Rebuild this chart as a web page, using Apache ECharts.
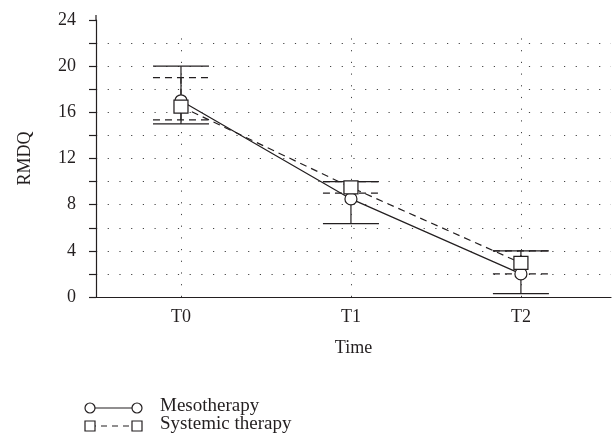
<!DOCTYPE html>
<html>
<head>
<meta charset="utf-8">
<script src="https://cdn.jsdelivr.net/npm/echarts@6/dist/echarts.min.js"></script>
<style>
html,body{margin:0;padding:0;background:#fff;}
#chart{width:614px;height:445px;}
</style>
</head>
<body>
<div id="chart"></div>
<script>
// ---- data ----
var categories = ['T0', 'T1', 'T2'];
var mesoMean = [17.0, 8.5, 2.0];
var mesoLow  = [15.0, 6.35, 0.3];
var mesoHigh = [20.0, 10.0, 4.0];
var sysMean  = [16.5, 9.5, 2.95];
var sysLow   = [15.35, 9.0, 2.0];
var sysHigh  = [19.0, 10.0, 4.0];
var seriesNames = ['Mesotherapy', 'Systemic therapy'];
var yTicks = [0, 4, 8, 12, 16, 20, 24];

var FONT = 'Liberation Serif';
var INK = '#231f20';

function pts(arr) { return arr.map(function (v, i) { return [i, v]; }); }
function bars(lo, hi) { return lo.map(function (v, i) { return [i, v, hi[i]]; }); }

function errRender(dashed) {
  return function (params, api) {
    var x = api.value(0);
    var lo = api.coord([x, api.value(1)]);
    var hi = api.coord([x, api.value(2)]);
    var hw = 28;
    var style = { stroke: INK, lineWidth: 1.2, lineDash: dashed ? [7, 5] : null };
    return {
      type: 'group',
      children: [
        { type: 'line', shape: { x1: lo[0], y1: lo[1], x2: hi[0], y2: hi[1] }, style: style },
        { type: 'line', shape: { x1: lo[0] - hw, y1: lo[1], x2: lo[0] + hw, y2: lo[1] }, style: style },
        { type: 'line', shape: { x1: hi[0] - hw, y1: hi[1], x2: hi[0] + hw, y2: hi[1] }, style: style }
      ]
    };
  };
}

var chart = echarts.init(document.getElementById('chart'), null, { renderer: 'canvas' });

var dotted = { color: '#444', width: 1, type: [1.2, 10.5] };

chart.setOption({
  animation: false,
  backgroundColor: '#fff',
  grid: { left: 96, right: 2, top: 20, bottom: 148 },
  xAxis: {
    type: 'value',
    min: -0.5,
    max: 2.53,
    interval: 0.5,
    name: 'Time',
    nameLocation: 'middle',
    nameGap: 42,
    nameTextStyle: { fontFamily: FONT, fontSize: 18, color: INK },
    axisLine: { onZero: false, lineStyle: { color: INK, width: 1.2 } },
    axisTick: { show: false },
    splitLine: { show: false },
    axisLabel: {
      margin: 11,
      fontFamily: FONT, fontSize: 18, color: INK,
      formatter: function (v) {
        var r = Math.round(v);
        return (Math.abs(v - r) < 1e-6 && categories[r] !== undefined) ? categories[r] : '';
      }
    }
  },
  yAxis: {
    type: 'value',
    min: 0,
    max: 24,
    interval: 2,
    name: 'RMDQ',
    nameLocation: 'middle',
    nameGap: 62,
    nameTextStyle: { fontFamily: FONT, fontSize: 18, color: INK },
    axisLine: { show: true, onZero: false, lineStyle: { color: INK, width: 1.2 } },
    axisTick: { show: true, length: 7, lineStyle: { color: INK, width: 1.2 } },
    splitLine: { show: true, showMaxLine: false, showMinLine: false, lineStyle: dotted },
    axisLabel: {
      margin: 20,
      fontFamily: FONT, fontSize: 18, color: INK,
      formatter: function (v) { return yTicks.indexOf(v) >= 0 ? String(v) : ''; }
    }
  },
  series: [
    {
      type: 'line', name: 'grid', data: [], silent: true,
      markLine: {
        silent: true, symbol: 'none', label: { show: false },
        lineStyle: dotted,
        data: categories.map(function (c, i) { return [{ coord: [i, 0] }, { coord: [i, 23] }]; })
      }
    },
    {
      type: 'custom', name: seriesNames[1] + ' err', data: bars(sysLow, sysHigh),
      renderItem: errRender(true), z: 3, silent: true
    },
    {
      type: 'custom', name: seriesNames[0] + ' err', data: bars(mesoLow, mesoHigh),
      renderItem: errRender(false), z: 4, silent: true
    },
    {
      type: 'line', name: seriesNames[0], data: pts(mesoMean),
      symbol: 'circle', symbolSize: 12,
      itemStyle: { color: '#fff', borderColor: INK, borderWidth: 1.2 },
      lineStyle: { color: INK, width: 1.2, type: 'solid' },
      z: 5
    },
    {
      type: 'line', name: seriesNames[1], data: pts(sysMean),
      symbol: 'rect', symbolSize: [14, 13],
      itemStyle: { color: '#fff', borderColor: INK, borderWidth: 1.2 },
      lineStyle: { color: INK, width: 1.2, type: [7, 5] },
      z: 6
    }
  ],
  graphic: [
    { type: 'line', shape: { x1: 96, y1: 15, x2: 96, y2: 20 }, style: { stroke: INK, lineWidth: 1.2 } },
    { type: 'line', shape: { x1: 90, y1: 408, x2: 137, y2: 408 }, style: { stroke: INK, lineWidth: 1.2 } },
    { type: 'circle', shape: { cx: 90, cy: 408, r: 5 }, style: { fill: '#fff', stroke: INK, lineWidth: 1.2 } },
    { type: 'circle', shape: { cx: 137, cy: 408, r: 5 }, style: { fill: '#fff', stroke: INK, lineWidth: 1.2 } },
    { type: 'text', left: 160, top: 397, style: { text: seriesNames[0], font: '19px "Liberation Serif"', fill: INK } },
    { type: 'line', shape: { x1: 90, y1: 426, x2: 137, y2: 426 }, style: { stroke: INK, lineWidth: 1.2, lineDash: [6, 5] } },
    { type: 'rect', shape: { x: 85, y: 421, width: 10, height: 10 }, style: { fill: '#fff', stroke: INK, lineWidth: 1.2 } },
    { type: 'rect', shape: { x: 132, y: 421, width: 10, height: 10 }, style: { fill: '#fff', stroke: INK, lineWidth: 1.2 } },
    { type: 'text', left: 160, top: 415, style: { text: seriesNames[1], font: '19px "Liberation Serif"', fill: INK } }
  ]
});
</script>
</body>
</html>
